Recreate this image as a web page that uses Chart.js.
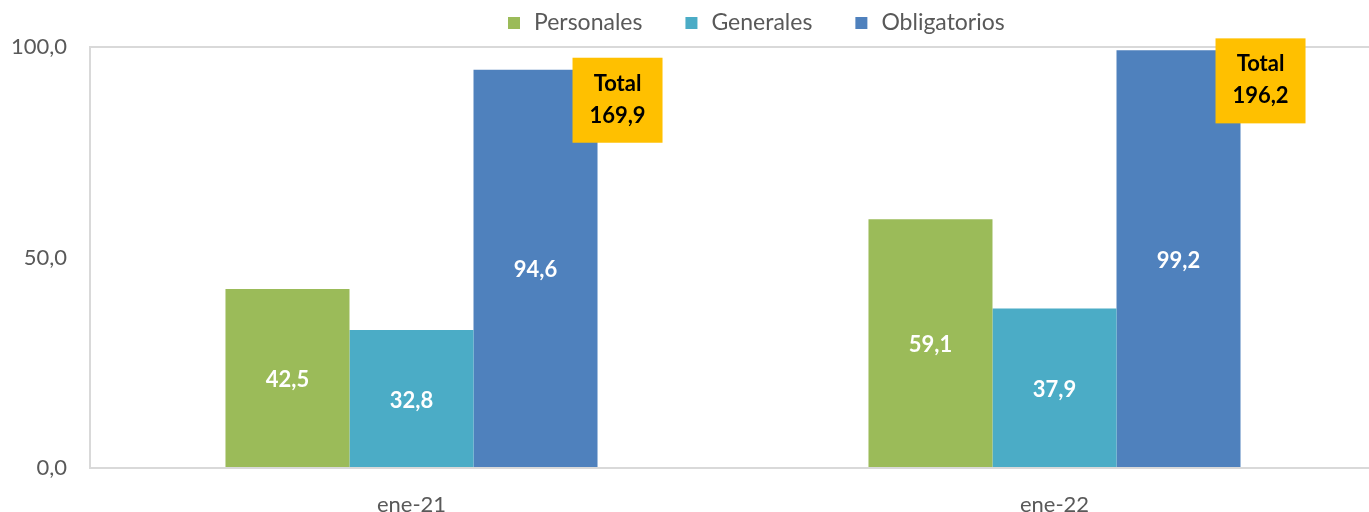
<!DOCTYPE html>
<html>
<head>
<meta charset="utf-8">
<script src="https://cdn.jsdelivr.net/npm/chart.js@4"></script>
<style>
  html, body { margin: 0; padding: 0; background: #fff; overflow: hidden; }
  #wrap { width: 1376px; height: 512px; }
</style>
</head>
<body>
<div id="wrap"><canvas id="chart" width="1376" height="512"></canvas></div>
<script>
// datos
var categorias = ['ene-21', 'ene-22'];
var personales = [42.5, 59.1];
var generales = [32.8, 37.9];
var obligatorios = [94.6, 99.2];
var totales = [169.9, 196.2];
var yTicks = [0, 50, 100];

var FONT = 'Lato, "Open Sans", sans-serif';

function fmt(v) {
  return v.toFixed(1).replace('.', ',');
}

// etiquetas blancas dentro de las barras
var etiquetasPlugin = {
  id: 'etiquetas',
  afterDatasetsDraw: function(chart) {
    var ctx = chart.ctx;
    ctx.save();
    ctx.font = 'bold 22px ' + FONT;
    ctx.fillStyle = '#ffffff';
    ctx.textAlign = 'center';
    ctx.textBaseline = 'middle';
    chart.data.datasets.forEach(function(ds, i) {
      chart.getDatasetMeta(i).data.forEach(function(bar, j) {
        ctx.fillText(fmt(ds.data[j]), bar.x, (bar.y + bar.base) / 2 + 2);
      });
    });
    // cajas de total junto a la barra de obligatorios
    var meta = chart.getDatasetMeta(2);
    meta.data.forEach(function(bar, j) {
      var left = bar.x + bar.width / 2 - 25;
      var top = bar.y - 12;
      ctx.fillStyle = '#FFC000';
      ctx.fillRect(left, top, 90, 85);
      ctx.fillStyle = '#000000';
      ctx.font = 'bold 22px ' + FONT;
      ctx.fillText('Total', left + 45, top + 26);
      ctx.fillText(fmt(totales[j]), left + 45, top + 58);
    });
    ctx.restore();
  }
};

// leyenda arriba
var leyendaPlugin = {
  id: 'leyenda',
  afterDraw: function(chart) {
    var ctx = chart.ctx;
    ctx.save();
    ctx.font = '23px ' + FONT;
    ctx.textBaseline = 'middle';
    ctx.textAlign = 'left';
    var x = 508;
    chart.data.datasets.forEach(function(ds) {
      ctx.fillStyle = ds.backgroundColor;
      ctx.fillRect(x, 17, 12, 12);
      x += 26;
      ctx.fillStyle = '#595959';
      ctx.fillText(ds.label, x, 23);
      x += ctx.measureText(ds.label).width + 43;
    });
    ctx.restore();
  }
};

var ctx = document.getElementById('chart').getContext('2d');
var chart = new Chart(ctx, {
  type: 'bar',
  data: {
    labels: categorias,
    datasets: [
      { label: 'Personales', data: personales, backgroundColor: '#9BBB59' },
      { label: 'Generales', data: generales, backgroundColor: '#4BACC6' },
      { label: 'Obligatorios', data: obligatorios, backgroundColor: '#4F81BD' }
    ]
  },
  options: {
    responsive: false,
    animation: false,
    layout: { padding: { top: 47, right: 0, left: 0, bottom: 0 } },
    datasets: {
      bar: { categoryPercentage: 0.5786, barPercentage: 1.0 }
    },
    plugins: {
      legend: { display: false },
      tooltip: { enabled: false }
    },
    scales: {
      x: {
        grid: { display: false },
        border: { display: true, color: '#D9D9D9', width: 2 },
        ticks: { color: '#595959', font: { family: FONT, size: 22 }, padding: 16 },
        afterFit: function(scale) { scale.height = 44; }
      },
      y: {
        min: 0,
        max: 100,
        afterBuildTicks: function(scale) {
          scale.ticks = yTicks.map(function(v) { return { value: v }; });
        },
        grid: {
          drawTicks: false,
          lineWidth: 2,
          color: function(c) {
            return c.tick && c.tick.value === 100 ? '#D9D9D9' : 'rgba(0,0,0,0)';
          }
        },
        border: { display: true, color: '#D9D9D9', width: 2 },
        ticks: {
          color: '#595959',
          font: { family: FONT, size: 22 },
          padding: 23,
          callback: function(v) { return fmt(v); }
        },
        afterFit: function(scale) { scale.width = 90; }
      }
    }
  },
  plugins: [etiquetasPlugin, leyendaPlugin]
});
</script>
</body>
</html>
